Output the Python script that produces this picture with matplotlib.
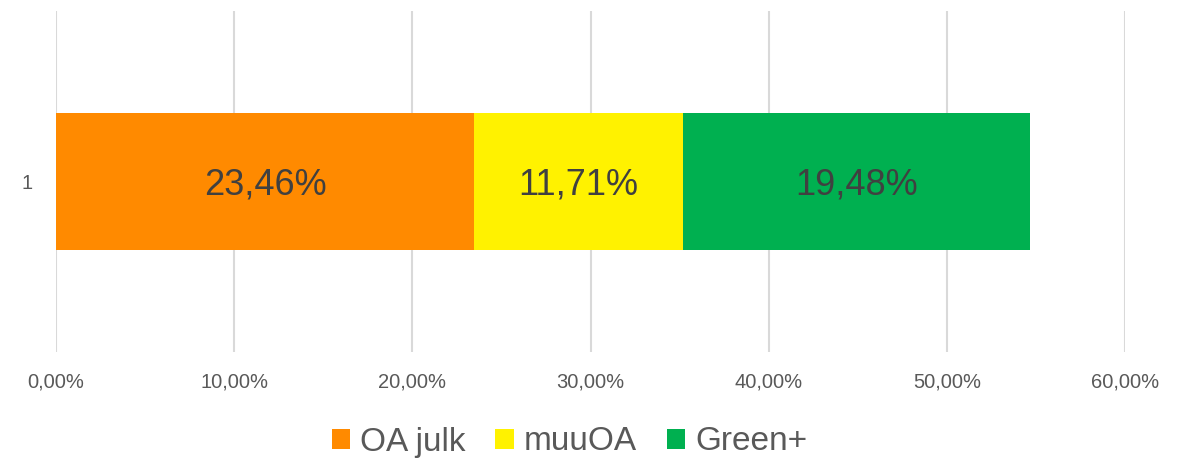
import matplotlib.pyplot as plt
from matplotlib.ticker import FuncFormatter

plt.rcParams['font.family'] = ['Liberation Sans', 'DejaVu Sans']

# data
categories = ['1']
series = ['OA julk', 'muuOA', 'Green+']
values = [23.46, 11.71, 19.48]
colors = ['#FF8A00', '#FFF200', '#00B050']
xticks = [0, 10, 20, 30, 40, 50, 60]

fig = plt.figure(figsize=(11.93, 4.58), dpi=100)
ax = fig.add_axes([56/1193, 1-352/458, 1069/1193, 341/458])

left = 0
for name, v, c in zip(series, values, colors):
    ax.barh(categories, [v], left=left, height=0.4, color=c, label=name, zorder=2)
    ax.text(left + v/2, -0.01, ('%.2f%%' % v).replace('.', ','), ha='center', va='center',
            fontsize=26, color='#404040', zorder=3)
    left += v

ax.set_xlim(0, 60)
ax.set_ylim(-0.5, 0.5)
ax.set_xticks(xticks)
ax.xaxis.set_major_formatter(FuncFormatter(lambda x, p: ('%.2f%%' % x).replace('.', ',')))
ax.grid(axis='x', color='#D9D9D9', linewidth=1.5, zorder=0)
ax.tick_params(axis='x', length=0, pad=15, labelsize=14.5, labelcolor='#595959')
ax.tick_params(axis='y', length=0, pad=17, labelsize=14.5, labelcolor='#595959')
for s in ax.spines.values():
    s.set_visible(False)

fig.legend(loc='center', bbox_to_anchor=(569.5/1193, 1-442/458), ncol=3, frameon=False,
           fontsize=24, handlelength=0.55, handleheight=0.55, handletextpad=0.3,
           columnspacing=0.9, labelcolor='#595959')

fig.savefig('out.png', dpi=100)
